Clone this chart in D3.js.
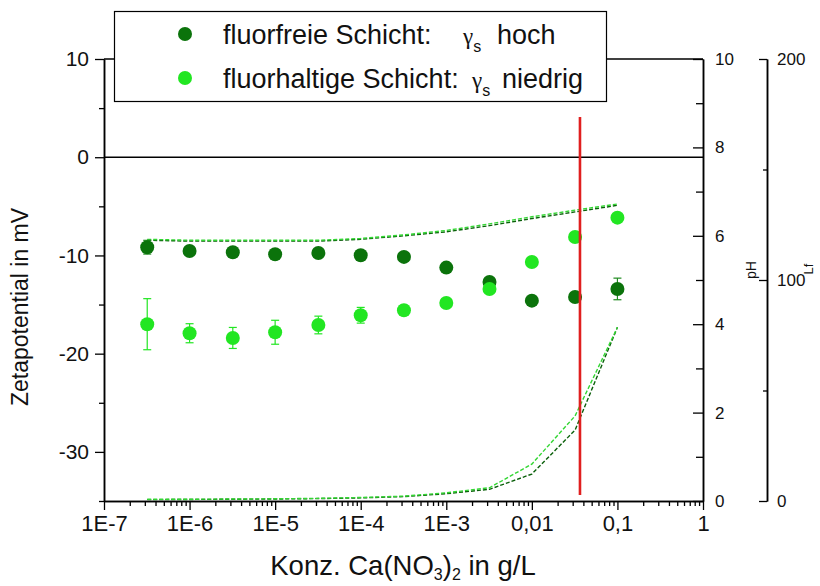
<!DOCTYPE html>
<html><head><meta charset="utf-8">
<script src="https://cdn.jsdelivr.net/npm/d3@7"></script>
<style>
html,body{margin:0;padding:0;background:#fff;}
svg{display:block;font-family:Arial,"Liberation Sans",sans-serif;}
</style></head>
<body>
<svg id="chart" width="820" height="586"></svg>
<script>
// ---- data ----
const conc = [3.2e-7, 1e-6, 3.2e-6, 1e-5, 3.2e-5, 1e-4, 3.2e-4, 1e-3, 3.2e-3, 1e-2, 3.2e-2, 1e-1];
const zetaFree = [-9.16, -9.54, -9.67, -9.88, -9.75, -9.98, -10.15, -11.24, -12.7, -14.6, -14.23, -13.41];
const errFree  = [0.7, 0.3, 0.3, 0.3, 0.3, 0.3, 0.3, 0.3, 0.3, 0.3, 0.3, 1.1];
const zetaFluor = [-17.0, -17.92, -18.4, -17.82, -17.08, -16.09, -15.58, -14.84, -13.41, -10.66, -8.12, -6.15];
const errFluor  = [2.6, 0.97, 1.07, 1.22, 0.9, 0.8, 0.5, 0.4, 0.4, 0.3, 0.3, 0.3];
const pHFree  = [5.90, 5.88, 5.88, 5.88, 5.88, 5.92, 6.00, 6.09, 6.23, 6.39, 6.54, 6.69];
const pHFluor = [5.92, 5.90, 5.90, 5.90, 5.90, 5.94, 6.02, 6.12, 6.27, 6.43, 6.58, 6.72];
const lfFree  = [0.6, 0.7, 0.8, 0.9, 1.1, 1.4, 2.0, 3.3, 5.3, 12.2, 32.1, 78.6];
const lfFluor = [0.8, 0.8, 0.9, 1.0, 1.2, 1.6, 2.2, 3.7, 6.0, 16.7, 38.5, 78.6];
const redLineX = 0.0365;
const redLineY = [4.1, -34.4];
const xTickValues = [1e-7, 1e-6, 1e-5, 1e-4, 1e-3, 1e-2, 1e-1, 1];
const xTickLabels = ["1E-7", "1E-6", "1E-5", "1E-4", "1E-3", "0,01", "0,1", "1"];
const yTicks = [10, 0, -10, -20, -30];
const yMinorTicks = [5, -5, -15, -25, -35];
const pHTicks = [0, 2, 4, 6, 8, 10];
const pHMinor = [1, 3, 5, 7, 9];
const lfTicks = [0, 100, 200];
const lfMinor = [50, 150];
const legendLabels = ["fluorfreie Schicht:", "fluorhaltige Schicht:"];
const legendSuffix = ["hoch", "niedrig"];

// ---- styles ----
const cDark = "#0b730b", cLight = "#22e622";
const cDarkErr = "#1f8a1f";
const cDarkLine = "#0b600b", cLightLine = "#33d633";

const svg = d3.select("#chart");
const L = 104, R = 703, T = 59, B = 501;
const x = d3.scaleLog().domain([1e-7, 1]).range([L, R]);
const y = d3.scaleLinear().domain([-35, 10]).range([B, T]);
const yPH = d3.scaleLinear().domain([0, 10]).range([B, T]);
const yLf = d3.scaleLinear().domain([0, 200]).range([B, T]);
const lfX = 767;
const plain = d => String(d);

// top frame line
svg.append("line").attr("x1", L).attr("x2", R).attr("y1", T).attr("y2", T)
  .attr("stroke", "#000").attr("stroke-width", 1.5);

// zero line
svg.append("line").attr("x1", L).attr("x2", R).attr("y1", y(0)).attr("y2", y(0))
  .attr("stroke", "#000").attr("stroke-width", 1.6);

function styleAxis(g, fs) {
  g.select(".domain").attr("stroke", "#000").attr("stroke-width", 1.5);
  g.selectAll(".tick line").attr("stroke", "#000").attr("stroke-width", 1.3);
  g.selectAll(".tick text").attr("fill", "#111").style("font-size", fs + "px")
    .style("font-family", "Arial, 'Liberation Sans', sans-serif");
}

// x axis
const minorX = [];
for (let e = -7; e < 0; e++) for (let m = 2; m <= 9; m++) minorX.push(m * Math.pow(10, e));
const gxm = svg.append("g").attr("transform", `translate(0,${B})`)
  .call(d3.axisBottom(x).tickValues(minorX).tickSize(5).tickSizeOuter(0).tickFormat(""));
styleAxis(gxm, 10);
const gx = svg.append("g").attr("transform", `translate(0,${B})`)
  .call(d3.axisBottom(x).tickValues(xTickValues).tickSize(9).tickSizeOuter(0)
    .tickFormat((d, i) => xTickLabels[i]).tickPadding(5));
styleAxis(gx, 22);
gx.selectAll(".tick text").attr("dy", "0.71em");

// left y axis
const gym = svg.append("g").attr("transform", `translate(${L},0)`)
  .call(d3.axisLeft(y).tickValues(yMinorTicks).tickSize(5).tickSizeOuter(0).tickFormat(""));
styleAxis(gym, 10);
const gy = svg.append("g").attr("transform", `translate(${L},0)`)
  .call(d3.axisLeft(y).tickValues(yTicks).tickSize(9).tickSizeOuter(0).tickFormat(plain).tickPadding(6));
styleAxis(gy, 21);

// pH axis (ticks inward, labels right)
const gpm = svg.append("g").attr("transform", `translate(${R},0)`)
  .call(d3.axisLeft(yPH).tickValues(pHMinor).tickSize(7).tickSizeOuter(0).tickFormat(""));
styleAxis(gpm, 10);
const gp = svg.append("g").attr("transform", `translate(${R},0)`)
  .call(d3.axisLeft(yPH).tickValues(pHTicks).tickSize(10).tickSizeOuter(0).tickFormat(plain));
styleAxis(gp, 17);
gp.selectAll(".tick text").attr("x", 12).attr("text-anchor", "start");

// Lf axis
const glm = svg.append("g").attr("transform", `translate(${lfX},0)`)
  .call(d3.axisLeft(yLf).tickValues(lfMinor).tickSize(4).tickSizeOuter(0).tickFormat(""));
styleAxis(glm, 10);
const gl = svg.append("g").attr("transform", `translate(${lfX},0)`)
  .call(d3.axisLeft(yLf).tickValues(lfTicks).tickSize(8).tickSizeOuter(0).tickFormat(plain));
styleAxis(gl, 17);
gl.selectAll(".tick text").attr("x", 10).attr("text-anchor", "start");

// axis titles
svg.append("text").attr("transform", "translate(28,307) rotate(-90)")
  .attr("text-anchor", "middle").style("font-size", "23px").attr("fill", "#111")
  .text("Zetapotential in mV");
const xl = svg.append("text").attr("x", 403).attr("y", 575).attr("text-anchor", "middle")
  .style("font-size", "27.5px").attr("fill", "#111");
xl.append("tspan").text("Konz. Ca(NO");
xl.append("tspan").attr("dy", 5).style("font-size", "16px").text("3");
xl.append("tspan").attr("dy", -5).text(")");
xl.append("tspan").attr("dy", 5).style("font-size", "16px").text("2");
xl.append("tspan").attr("dy", -5).text(" in g/L");
svg.append("text").attr("transform", "translate(756,270) rotate(-90)")
  .attr("text-anchor", "middle").style("font-size", "14px").attr("fill", "#111").text("pH");
svg.append("text").attr("transform", "translate(813,269) rotate(-90)")
  .attr("text-anchor", "middle").style("font-size", "13px").attr("fill", "#111").text("Lf");

// dashed lines
function dashed(vals, scale, color) {
  const line = d3.line().x((d, i) => x(conc[i])).y(d => scale(d));
  svg.append("path").datum(vals).attr("d", line).attr("fill", "none")
    .attr("stroke", color).attr("stroke-width", 1.4).attr("stroke-dasharray", "4,2");
}
dashed(pHFree, yPH, cDarkLine);
dashed(pHFluor, yPH, cLightLine);
dashed(lfFree, yLf, cDarkLine);
dashed(lfFluor, yLf, cLightLine);

// series with error bars
function series(vals, errs, color, ecolor) {
  const g = svg.append("g");
  vals.forEach((v, i) => {
    const cx = x(conc[i]);
    const y1 = y(v + errs[i]), y2 = y(v - errs[i]);
    g.append("line").attr("x1", cx).attr("x2", cx).attr("y1", y1).attr("y2", y2)
      .attr("stroke", ecolor).attr("stroke-width", 1.2);
    [y1, y2].forEach(yy => g.append("line").attr("x1", cx - 4).attr("x2", cx + 4)
      .attr("y1", yy).attr("y2", yy).attr("stroke", ecolor).attr("stroke-width", 1.2));
  });
  g.selectAll("circle").data(vals).join("circle")
    .attr("cx", (d, i) => x(conc[i])).attr("cy", d => y(d)).attr("r", 7)
    .attr("fill", color);
}
series(zetaFree, errFree, cDark, cDarkErr);
series(zetaFluor, errFluor, cLight, cLight);

// red line
svg.append("line").attr("x1", x(redLineX)).attr("x2", x(redLineX))
  .attr("y1", y(redLineY[0])).attr("y2", y(redLineY[1]))
  .attr("stroke", "#e01f1f").attr("stroke-width", 2.6);

// legend
const lg = svg.append("g");
lg.append("rect").attr("x", 114.5).attr("y", 11.5).attr("width", 492).attr("height", 90)
  .attr("fill", "#fff").attr("stroke", "#000").attr("stroke-width", 1.2);
const rowsY = [44, 88];
const gammaX = [463, 472];
const suffixX = [497, 502];
[cDark, cLight].forEach((c, i) => {
  lg.append("circle").attr("cx", 185).attr("cy", rowsY[i] - 10).attr("r", 7).attr("fill", c);
  lg.append("text").attr("x", 223).attr("y", rowsY[i]).style("font-size", "27px")
    .attr("fill", "#111").text(legendLabels[i]);
  const gt = lg.append("text").attr("x", gammaX[i]).attr("y", rowsY[i]).attr("fill", "#111");
  gt.append("tspan").style("font-size", "23px").style("font-family", "'Liberation Serif', serif").text("γ");
  gt.append("tspan").attr("dy", 8).style("font-size", "16px").text("s");
  lg.append("text").attr("x", suffixX[i]).attr("y", rowsY[i]).style("font-size", "27px")
    .attr("fill", "#111").text(legendSuffix[i]);
});
</script>
</body></html>
